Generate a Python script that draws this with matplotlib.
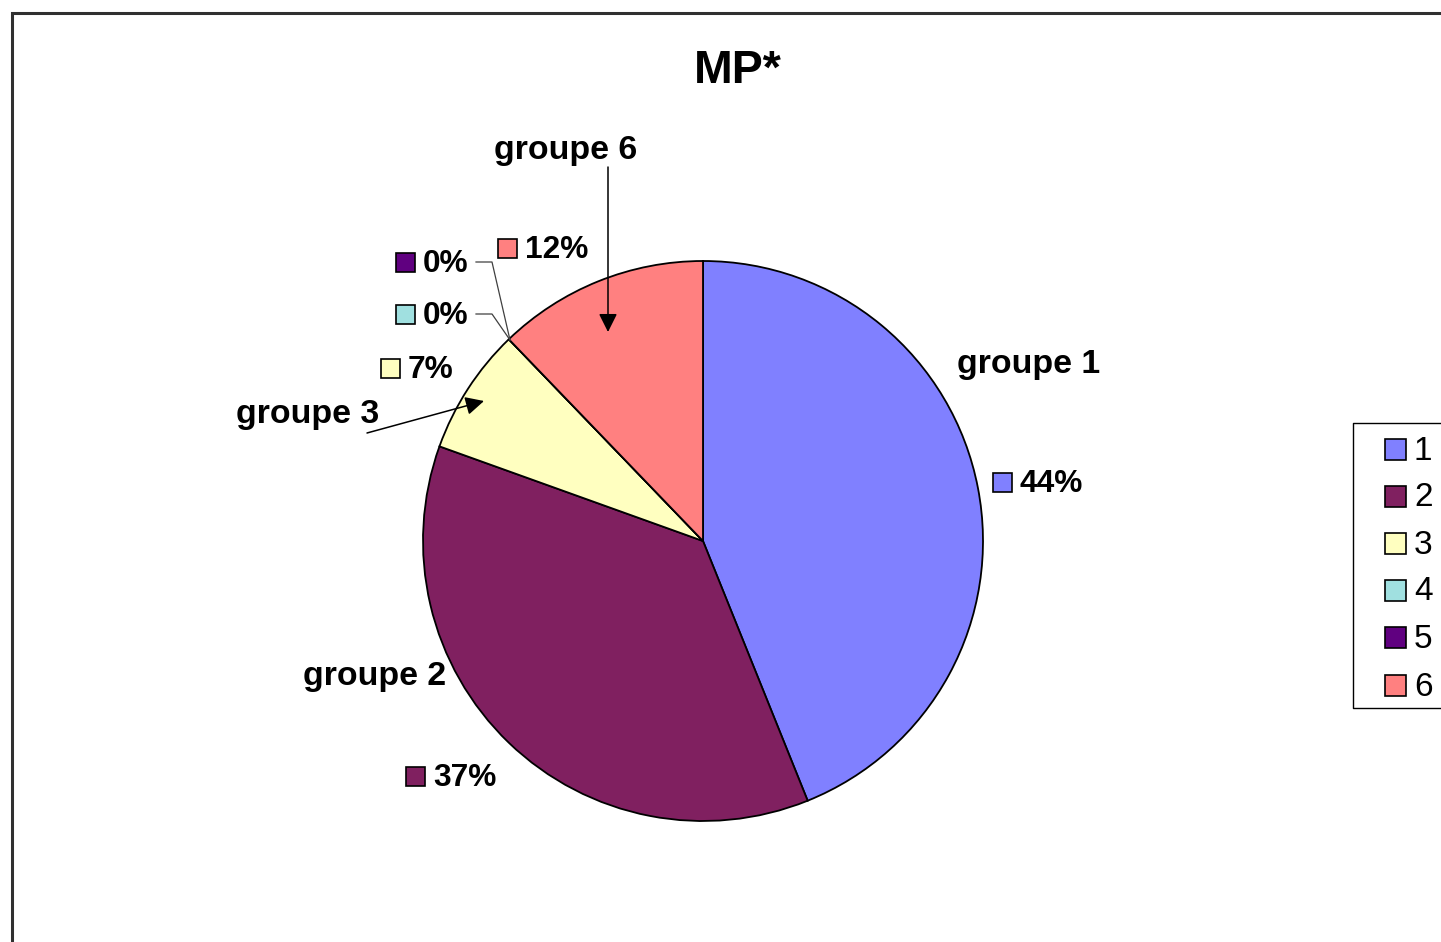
import matplotlib
matplotlib.use("Agg")
import matplotlib.pyplot as plt
from matplotlib.patches import Rectangle

plt.rcParams['font.family'] = ['Liberation Sans', 'DejaVu Sans']

# ---- data ----
categories = ["1", "2", "3", "4", "5", "6"]
group_names = ["groupe 1", "groupe 2", "groupe 3", "groupe 4", "groupe 5", "groupe 6"]
values = [18, 15, 3, 0, 0, 5]
colors = ["#8080FF", "#802060", "#FFFFC0", "#A0E0E0", "#600080", "#FF8080"]
title = "MP*"

W, H = 1441, 942
fig = plt.figure(figsize=(W / 100, H / 100), dpi=100)
ax = fig.add_axes([0, 0, 1, 1])

CX, CY, R = 703, 541, 280
wedges, _ = ax.pie(values, colors=colors, center=(CX, CY), radius=R,
                   counterclock=True, startangle=-90,
                   wedgeprops=dict(edgecolor="black", linewidth=1.3))
ax.set_xlim(0, W)
ax.set_ylim(H, 0)
ax.set_aspect('equal')
ax.axis('off')

# outer frame (chart area border, cropped at right and bottom)
ax.plot([12, 12, W + 5], [H + 5, 13, 13], color="#303030", lw=2.2,
        solid_joinstyle='miter', clip_on=False)

# title
ax.text(738, 71, title, ha='center', va='center', fontsize=33.5, fontweight='bold')

total = sum(values)
pcts = [f"{round(100 * v / total)}%" for v in values]

# percentage labels with swatches: (swatch left x, center y)
pct_pos = {0: (993, 482), 1: (406, 776), 2: (381, 368), 3: (396, 314),
           4: (396, 262), 5: (498, 248)}
SW = 19
for i, (sx, sy) in pct_pos.items():
    ax.add_patch(Rectangle((sx, sy - SW / 2), SW, SW, facecolor=colors[i],
                           edgecolor="black", lw=1.2))
    ax.text(sx + SW + 8, sy + 2, pcts[i], ha='left', va='center',
            fontsize=22.8, fontweight='bold')

# group name labels
name_pos = {0: (1029, 364), 1: (375, 677), 2: (308, 414), 5: (566, 151)}
for i, (x, y) in name_pos.items():
    ax.text(x, y, group_names[i], ha='center', va='center',
            fontsize=24.4, fontweight='bold')

# arrows
ax.annotate("", xy=(608, 332), xytext=(608, 167),
            arrowprops=dict(arrowstyle="-|>", color="black", lw=1.1,
                            mutation_scale=28, shrinkA=0, shrinkB=0))
ax.annotate("", xy=(484, 401), xytext=(367, 433),
            arrowprops=dict(arrowstyle="-|>", color="black", lw=1.1,
                            mutation_scale=28, shrinkA=0, shrinkB=0))

# leader lines for the 0% labels
for y in (262, 314):
    ax.plot([476, 492, 510], [y, y, 340], color="#404040", lw=0.9)

# legend (manual, cropped at right edge)
LX, LT, LB = 1353, 423, 708
ax.plot([W + 5, LX, LX, W + 5], [LT, LT, LB, LB], color="black", lw=1.0,
        clip_on=False)
ys = [449, 496, 543, 590, 637, 685]
for i, y in enumerate(ys):
    ax.add_patch(Rectangle((1385, y - 10.5), 21, 21, facecolor=colors[i],
                           edgecolor="black", lw=1.2))
    ax.text(1414, y + 2, categories[i], ha='left', va='center', fontsize=24)

fig.savefig("out.png", dpi=100)
